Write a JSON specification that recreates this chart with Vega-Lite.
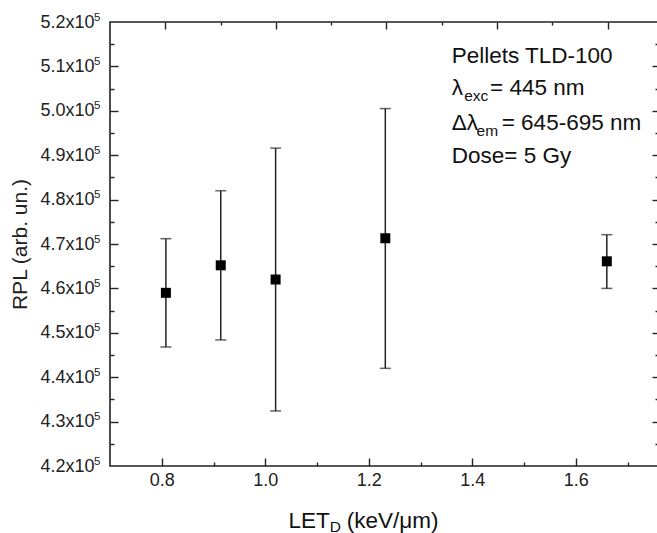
{
  "$schema": "https://vega.github.io/schema/vega-lite/v6.json",
  "autosize": {"type": "none"},
  "padding": {"left": 110, "top": 22, "right": 0, "bottom": 67},
  "width": 548,
  "height": 444,
  "background": "white",
  "config": {
    "view": {"stroke": "#222", "strokeWidth": 1.6},
    "font": "Liberation Sans",
    "axis": {
      "domainColor": "#222", "domainWidth": 1.6,
      "tickColor": "#222", "tickWidth": 1.4,
      "labelColor": "#222", "titleColor": "#222",
      "grid": false,
      "labelFont": "Liberation Sans", "titleFont": "Liberation Sans",
      "labelFontSize": 18, "titleFontSize": 21, "titleFontWeight": "normal",
      "labelOverlap": false, "labelFlush": false, "labelBound": false
    },
    "text": {"font": "Liberation Sans", "color": "#111"}
  },
  "data": {"values": [
    {"let": 0.808, "rpl": 459000, "lo": 446800, "hi": 471200},
    {"let": 0.914, "rpl": 465200, "lo": 448400, "hi": 482000},
    {"let": 1.020, "rpl": 462000, "lo": 432400, "hi": 491600},
    {"let": 1.232, "rpl": 471300, "lo": 442000, "hi": 500500},
    {"let": 1.660, "rpl": 466100, "lo": 460000, "hi": 472100}
  ]},
  "layer": [
    {
      "layer": [
        {
          "mark": {"type": "errorbar", "ticks": {"size": 11, "thickness": 1.5, "color": "#222"}, "rule": {"strokeWidth": 1.5, "color": "#222"}},
          "encoding": {
            "x": {"field": "let", "type": "quantitative",
              "scale": {"domain": [0.7, 1.7589], "nice": false, "zero": false}, "axis": null},
            "y": {"field": "lo", "type": "quantitative",
              "scale": {"domain": [420000, 520000], "nice": false, "zero": false}, "axis": null},
            "y2": {"field": "hi"}
          }
        },
        {
          "mark": {"type": "square", "size": 100, "color": "#000", "opacity": 1, "filled": true},
          "encoding": {
            "x": {"field": "let", "type": "quantitative", "axis": null},
            "y": {"field": "rpl", "type": "quantitative", "axis": null}
          }
        },
        {
          "data": {"values": [{}]},
          "mark": {"type": "text", "fontSize": 22.5, "align": "left", "baseline": "alphabetic"},
          "encoding": {"x": {"datum": 1.3603, "type": "quantitative", "axis": null}, "y": {"datum": 510690, "type": "quantitative", "axis": null}, "text": {"value": "Pellets TLD-100"}}
        },
        {
          "data": {"values": [{}]},
          "mark": {"type": "text", "fontSize": 22.5, "align": "left", "baseline": "alphabetic"},
          "encoding": {"x": {"datum": 1.3603, "type": "quantitative", "axis": null}, "y": {"datum": 503550, "type": "quantitative", "axis": null}, "text": {"value": "λ"}}
        },
        {
          "data": {"values": [{}]},
          "mark": {"type": "text", "fontSize": 15.5, "align": "left", "baseline": "alphabetic"},
          "encoding": {"x": {"datum": 1.3845, "type": "quantitative", "axis": null}, "y": {"datum": 502265, "type": "quantitative", "axis": null}, "text": {"value": "exc"}}
        },
        {
          "data": {"values": [{}]},
          "mark": {"type": "text", "fontSize": 22.5, "align": "left", "baseline": "alphabetic"},
          "encoding": {"x": {"datum": 1.4343, "type": "quantitative", "axis": null}, "y": {"datum": 503550, "type": "quantitative", "axis": null}, "text": {"value": "= 445 nm"}}
        },
        {
          "data": {"values": [{}]},
          "mark": {"type": "text", "fontSize": 22.5, "align": "left", "baseline": "alphabetic"},
          "encoding": {"x": {"datum": 1.3603, "type": "quantitative", "axis": null}, "y": {"datum": 495670, "type": "quantitative", "axis": null}, "text": {"value": "Δλ"}}
        },
        {
          "data": {"values": [{}]},
          "mark": {"type": "text", "fontSize": 15.5, "align": "left", "baseline": "alphabetic"},
          "encoding": {"x": {"datum": 1.4083, "type": "quantitative", "axis": null}, "y": {"datum": 494320, "type": "quantitative", "axis": null}, "text": {"value": "em"}}
        },
        {
          "data": {"values": [{}]},
          "mark": {"type": "text", "fontSize": 22.5, "align": "left", "baseline": "alphabetic"},
          "encoding": {"x": {"datum": 1.4569, "type": "quantitative", "axis": null}, "y": {"datum": 495670, "type": "quantitative", "axis": null}, "text": {"value": "= 645-695 nm"}}
        },
        {
          "data": {"values": [{}]},
          "mark": {"type": "text", "fontSize": 22.5, "align": "left", "baseline": "alphabetic"},
          "encoding": {"x": {"datum": 1.3603, "type": "quantitative", "axis": null}, "y": {"datum": 488170, "type": "quantitative", "axis": null}, "text": {"value": "Dose= 5 Gy"}}
        },
        {
          "data": {"values": [{}]},
          "mark": {"type": "text", "fontSize": 22.5, "align": "left", "baseline": "alphabetic", "dy": 62},
          "encoding": {"x": {"datum": 1.0448, "type": "quantitative", "axis": null}, "y": {"datum": 420000, "type": "quantitative", "axis": null}, "text": {"value": "LET"}}
        },
        {
          "data": {"values": [{}]},
          "mark": {"type": "text", "fontSize": 15.5, "align": "left", "baseline": "alphabetic", "dy": 65.5},
          "encoding": {"x": {"datum": 1.1245, "type": "quantitative", "axis": null}, "y": {"datum": 420000, "type": "quantitative", "axis": null}, "text": {"value": "D"}}
        },
        {
          "data": {"values": [{}]},
          "mark": {"type": "text", "fontSize": 22.5, "align": "left", "baseline": "alphabetic", "dy": 62},
          "encoding": {"x": {"datum": 1.1575, "type": "quantitative", "axis": null}, "y": {"datum": 420000, "type": "quantitative", "axis": null}, "text": {"value": "(keV/μm)"}}
        }
      ]
    },
    {
      "data": {"values": [{}]},
      "mark": {"type": "point", "opacity": 0},
      "encoding": {
        "x": {"datum": 1.0, "type": "quantitative",
          "scale": {"domain": [0.7, 1.7589], "nice": false, "zero": false},
          "axis": {"orient": "bottom", "title": null, "domain": false, "ticks": false,
            "values": [0.8, 1.0, 1.2, 1.4, 1.6], "format": ".1f", "labelPadding": 5}}
      }
    },
    {
      "data": {"values": [{}]},
      "mark": {"type": "point", "opacity": 0},
      "encoding": {
        "y": {"datum": 470000, "type": "quantitative",
          "scale": {"domain": [420000, 520000], "nice": false, "zero": false},
          "axis": {"orient": "left", "title": "RPL (arb. un.)", "domain": false, "ticks": false,
            "values": [420000, 430000, 440000, 450000, 460000, 470000, 480000, 490000, 500000, 510000, 520000],
            "labelExpr": "format(datum.value/100000, '.1f') + 'x10'", "labelPadding": 16,
            "titleX": -90, "titleY": 222, "titleAngle": -90, "titleBaseline": "middle", "titleAlign": "center", "titleFontSize": 21}}
      }
    },
    {
      "data": {"values": [{}]},
      "mark": {"type": "point", "opacity": 0},
      "encoding": {
        "x": {"datum": 1.0, "type": "quantitative",
          "scale": {"domain": [0.7, 1.7589], "nice": false, "zero": false},
          "axis": {"orient": "bottom", "title": null, "labels": false, "domain": false,
            "values": [0.8, 1.0, 1.2, 1.4, 1.6], "tickSize": 8, "offset": -8}}
      }
    },
    {
      "data": {"values": [{}]},
      "mark": {"type": "point", "opacity": 0},
      "encoding": {
        "x": {"datum": 1.0, "type": "quantitative",
          "scale": {"domain": [0.7, 1.7589], "nice": false, "zero": false},
          "axis": {"orient": "bottom", "title": null, "labels": false, "domain": false,
            "values": [0.9, 1.1, 1.3, 1.5, 1.7], "tickSize": 4, "offset": -4}}
      }
    },
    {
      "data": {"values": [{}]},
      "mark": {"type": "point", "opacity": 0},
      "encoding": {
        "y": {"datum": 470000, "type": "quantitative",
          "scale": {"domain": [420000, 520000], "nice": false, "zero": false},
          "axis": {"orient": "left", "title": null, "labels": false, "domain": false,
            "values": [430000, 440000, 450000, 460000, 470000, 480000, 490000, 500000, 510000],
            "tickSize": 8, "offset": -8}}
      }
    },
    {
      "data": {"values": [{}]},
      "mark": {"type": "point", "opacity": 0},
      "encoding": {
        "y": {"datum": 470000, "type": "quantitative",
          "scale": {"domain": [420000, 520000], "nice": false, "zero": false},
          "axis": {"orient": "left", "title": null, "labels": false, "domain": false,
            "values": [425000, 435000, 445000, 455000, 465000, 475000, 485000, 495000, 505000, 515000],
            "tickSize": 4, "offset": -4}}
      }
    },
    {
      "data": {"values": [{}]},
      "mark": {"type": "point", "opacity": 0},
      "encoding": {
        "x": {"datum": 1.0, "type": "quantitative",
          "scale": {"domain": [0.7, 1.691], "nice": false, "zero": false},
          "axis": {"orient": "top", "title": null, "labels": false, "domain": false,
            "values": [0.8, 1.0, 1.2, 1.4, 1.6], "tickSize": 7, "offset": -7}}
      }
    },
    {
      "data": {"values": [{}]},
      "mark": {"type": "point", "opacity": 0},
      "encoding": {
        "x": {"datum": 1.0, "type": "quantitative",
          "scale": {"domain": [0.7, 1.691], "nice": false, "zero": false},
          "axis": {"orient": "top", "title": null, "labels": false, "domain": false,
            "values": [0.9, 1.1, 1.3, 1.5], "tickSize": 3, "offset": -3}}
      }
    },
    {
      "data": {"values": [{}]},
      "mark": {"type": "point", "opacity": 0},
      "encoding": {
        "y": {"datum": 470000, "type": "quantitative",
          "scale": {"domain": [420000, 520000], "nice": false, "zero": false},
          "axis": {"orient": "right", "title": null, "labels": false, "domain": false,
            "values": [430000, 440000, 450000, 460000, 470000, 480000, 490000, 500000, 510000],
            "tickSize": 6, "offset": -6}}
      }
    },
    {
      "data": {"values": [{}]},
      "mark": {"type": "point", "opacity": 0},
      "encoding": {
        "y": {"datum": 470000, "type": "quantitative",
          "scale": {"domain": [420000, 520000], "nice": false, "zero": false},
          "axis": {"orient": "right", "title": null, "labels": false, "domain": false,
            "values": [425000, 435000, 445000, 455000, 465000, 475000, 485000, 495000, 505000, 515000],
            "tickSize": 3, "offset": -3}}
      }
    },
    {
      "data": {"values": [{}]},
      "mark": {"type": "point", "opacity": 0},
      "encoding": {
        "y": {"datum": 470000, "type": "quantitative",
          "scale": {"domain": [420000, 520000], "nice": false, "zero": false},
          "axis": {"orient": "left", "title": null, "domain": false, "ticks": false,
            "values": [420000, 430000, 440000, 450000, 460000, 470000, 480000, 490000, 500000, 510000, 520000],
            "labelExpr": "'5'", "labelFontSize": 11.5, "labelPadding": 10, "labelOffset": -5}}
      }
    }
  ],
  "resolve": {"scale": {"x": "independent", "y": "independent"}, "axis": {"x": "independent", "y": "independent"}}
}
